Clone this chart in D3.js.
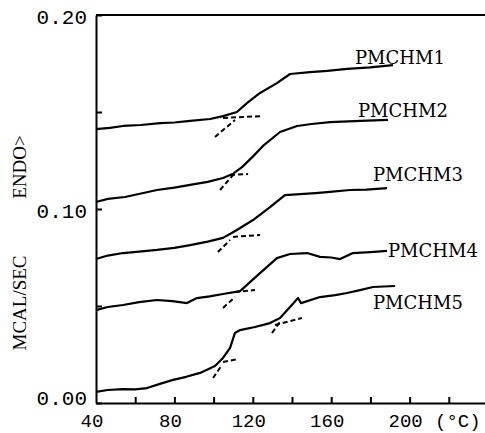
<!DOCTYPE html>
<html>
<head>
<meta charset="utf-8">
<script src="https://cdn.jsdelivr.net/npm/d3@7"></script>
<style>
  body { margin: 0; background: #fff; }
  svg { display: block; }
</style>
</head>
<body>
<div id="chart"></div>
<script>
// DSC traces, temperature (°C) vs heat flow (mcal/sec)
var names = ["PMCHM1", "PMCHM2", "PMCHM3", "PMCHM4", "PMCHM5"];

var pmchm1 = [[40,0.1412],[47,0.1418],[53.8,0.1428],[63,0.1433],[72.7,0.1443],[80,0.1446],[88,0.1454],[98.2,0.1464],
  [104.8,0.1479],[111.9,0.1500],[117,0.1546],[123.7,0.1598],[132.3,0.1649],[139,0.1696],[149.2,0.1706],
  [158,0.1712],[168.1,0.1722],[180,0.1730],[191.5,0.1742]];
var pmchm2 = [[40,0.1036],[46,0.1052],[54.8,0.1062],[63,0.1080],[71.1,0.1098],[80,0.1110],[88,0.1124],[97,0.1140],
  [104.8,0.1160],[110,0.1182],[114.5,0.1216],[120,0.1270],[125.2,0.1325],[133.9,0.1397],[142.6,0.1428],
  [150,0.1438],[159.4,0.1448],[175,0.1454],[189,0.1459]];
var pmchm3 = [[40,0.0742],[46,0.0760],[53.8,0.0773],[62,0.0780],[71.1,0.0789],[80,0.0800],[88,0.0814],[97,0.0832],
  [104.8,0.0851],[111.9,0.0892],[120.1,0.0943],[128.8,0.1010],[136.4,0.1072],[144.1,0.1077],[152,0.1082],
  [159.4,0.1088],[169.6,0.1098],[178,0.1100],[188.5,0.1108]];
var pmchm4 = [[40,0.0479],[46,0.0495],[53.8,0.0505],[62,0.0520],[71.1,0.0531],[79,0.0525],[86.4,0.0515],[91.5,0.0541],
  [98,0.0550],[104.8,0.0562],[113.5,0.0577],[122.1,0.0655],[132.3,0.0747],[139,0.0768],[147.7,0.0773],
  [154.3,0.0753],[160,0.0750],[164.5,0.0742],[171.1,0.0773],[180,0.0778],[188.5,0.0784]];
var pmchm5 = [[40,0.0057],[46,0.0067],[53.8,0.0072],[60,0.0070],[66,0.0077],[73,0.0100],[79.3,0.0119],[86,0.0135],
  [93.1,0.0155],[100.7,0.0191],[104.8,0.0232],[108.4,0.0284],[110.9,0.0361],[113.5,0.0376],[121.1,0.0392],
  [128.8,0.0412],[133.9,0.0438],[139,0.0495],[143.1,0.0541],[144.6,0.0515],[154.3,0.0546],[162,0.0556],
  [168.1,0.0567],[174.7,0.0582],[181.3,0.0598],[192.6,0.0603]];
var series = [pmchm1, pmchm2, pmchm3, pmchm4, pmchm5];

// onset construction lines (baseline extension and steep tangent), [start, end]
var tangents = [
  [[104.8,0.1469],[124.7,0.1479]], [[100.7,0.1371],[110.9,0.1459]],
  [[108.4,0.1175],[117.6,0.1180]], [[103.3,0.1098],[109.9,0.1175]],
  [[109.9,0.0856],[123.7,0.0866]], [[102.2,0.0778],[108.4,0.0840]],
  [[110.9,0.0572],[121.1,0.0582]], [[104.8,0.0490],[110.9,0.0546]],
  [[104.8,0.0211],[112.4,0.0227]], [[99.7,0.0129],[104.3,0.0196]],
  [[131.3,0.0402],[145.1,0.0438]], [[129.8,0.0361],[133.9,0.0418]]
];

var xTicks = [60, 80, 100, 120, 140, 160, 180, 200, 220];
var xLabels = [40, 80, 120, 160, 200];
var yTicks = [0, 0.05, 0.10, 0.15, 0.20];
var yLabels = [0, 0.10, 0.20];

var width = 485, height = 433;

var svg = d3.select("#chart").append("svg")
    .attr("width", width)
    .attr("height", height);

var x = d3.scaleLinear().domain([40, 240]).range([96, 488]);
var y = d3.scaleLinear().domain([0, 0.2]).range([403, 15]);

var mono = "'Liberation Mono', 'DejaVu Sans Mono', monospace";

// top frame line
svg.append("line")
    .attr("x1", x(40)).attr("x2", width)
    .attr("y1", y(0.2)).attr("y2", y(0.2))
    .attr("stroke", "#000").attr("stroke-width", 2);

var xAxis = svg.append("g")
    .attr("transform", "translate(0," + y(0) + ")")
    .call(d3.axisBottom(x).tickValues(xTicks).tickSizeInner(-6).tickSizeOuter(0).tickFormat(""));
xAxis.select(".domain").attr("stroke-width", 2);
xAxis.selectAll(".tick line").attr("stroke-width", 2);

var yAxis = svg.append("g")
    .attr("transform", "translate(" + x(40) + ",0)")
    .call(d3.axisLeft(y).tickValues(yTicks).tickSizeInner(-6).tickSizeOuter(0).tickFormat(""));
yAxis.select(".domain").attr("stroke-width", 2);
yAxis.selectAll(".tick line").attr("stroke-width", 2);

svg.selectAll(".xlab")
    .data(xLabels)
    .enter().append("text")
    .attr("class", "xlab")
    .attr("x", d => x(d) - 4)
    .attr("y", 427)
    .attr("text-anchor", "middle")
    .style("font-family", mono)
    .style("font-size", "19px")
    .text(d => d);

svg.append("text")
    .attr("x", 435).attr("y", 427)
    .style("font-family", mono)
    .style("font-size", "19px")
    .text("(°C)");

svg.selectAll(".ylab")
    .data(yLabels)
    .enter().append("text")
    .attr("class", "ylab")
    .attr("x", 87)
    .attr("y", d => d === 0 ? y(d) + 1.5 : y(d) + 9)
    .attr("text-anchor", "end")
    .style("font-family", mono)
    .style("font-size", "21px")
    .text(d => d3.format(".2f")(d));

// rotated axis title in two pieces
svg.append("text")
    .attr("transform", "translate(26,303) rotate(-90)")
    .attr("text-anchor", "middle")
    .style("font-family", "'Liberation Serif', serif")
    .style("font-size", "19px")
    .text("MCAL/SEC");
svg.append("text")
    .attr("transform", "translate(26,167) rotate(-90)")
    .attr("text-anchor", "middle")
    .style("font-family", "'Liberation Serif', serif")
    .style("font-size", "19px")
    .text("ENDO>");

var line = d3.line().x(d => x(d[0])).y(d => y(d[1]));

svg.selectAll(".trace")
    .data(series)
    .enter().append("path")
    .attr("class", "trace")
    .attr("d", line)
    .attr("fill", "none")
    .attr("stroke", "#000")
    .attr("stroke-width", 2.2)
    .attr("stroke-linejoin", "round");

svg.selectAll(".tan")
    .data(tangents)
    .enter().append("path")
    .attr("class", "tan")
    .attr("d", line)
    .attr("fill", "none")
    .attr("stroke", "#000")
    .attr("stroke-width", 2)
    .attr("stroke-dasharray", "5,3");

// series names sit just right of the trace ends
var labelPos = [[355, 64], [358, 117], [373, 181], [388, 257], [373, 309]];
svg.selectAll(".name")
    .data(names)
    .enter().append("text")
    .attr("class", "name")
    .attr("x", (d, i) => labelPos[i][0])
    .attr("y", (d, i) => labelPos[i][1])
    .style("font-family", "'DejaVu Serif', serif")
    .style("font-size", "18px")
    .text(d => d);
</script>
</body>
</html>
